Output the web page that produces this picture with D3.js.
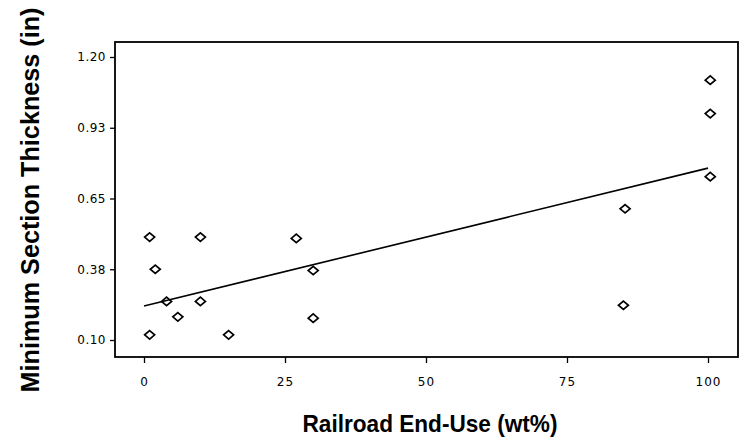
<!DOCTYPE html>
<html>
<head>
<meta charset="utf-8">
<script src="https://cdn.jsdelivr.net/npm/d3@7"></script>
<style>
  html, body { margin: 0; padding: 0; background: #fff; }
  svg { display: block; }
</style>
</head>
<body>
<svg id="chart" width="748" height="446"></svg>
<script>
// ---- data ----
const endUse = [1, 2, 4, 6, 1, 10, 10, 15, 27, 30, 30, 85.3, 85, 100.4, 100.4, 100.4];
const thickness = [0.50, 0.375, 0.25, 0.19, 0.12, 0.50, 0.25, 0.12, 0.495, 0.37, 0.185, 0.61, 0.235, 1.11, 0.98, 0.735];
const fitX = [0, 100];
const fitY = [0.232, 0.768];
const xTicks = [0, 25, 50, 75, 100];
const yTicks = [0.10, 0.375, 0.65, 0.925, 1.20];
const yTickLabels = ["0.10", "0.38", "0.65", "0.93", "1.20"];
const xTitle = "Railroad End-Use (wt%)";
const yTitle = "Minimum Section Thickness (in)";

const svg = d3.select("#chart");
const box = { left: 115, right: 738, top: 42, bottom: 357 };

const x = d3.scaleLinear().domain([0, 100]).range([144, 708]);
const y = d3.scaleLinear().domain([0.10, 1.20]).range([340, 57]);

// frame
svg.append("rect")
  .attr("x", box.left).attr("y", box.top)
  .attr("width", box.right - box.left).attr("height", box.bottom - box.top)
  .attr("fill", "none").attr("stroke", "#000").attr("stroke-width", 1.8);

// x axis
const xAxis = d3.axisBottom(x).tickValues(xTicks).tickSize(6).tickPadding(14)
  .tickFormat(d3.format("d"));
const gx = svg.append("g").attr("transform", `translate(0,${box.bottom})`).call(xAxis);
gx.select(".domain").remove();
gx.selectAll(".tick line").attr("stroke", "#000").attr("stroke-width", 1.3);
gx.selectAll(".tick text")
  .attr("fill", "#000")
  .style("font-family", "'DejaVu Sans', sans-serif")
  .style("font-size", "12px")
  .style("letter-spacing", "1px");

// y axis
const yAxis = d3.axisLeft(y).tickValues(yTicks).tickSize(5).tickPadding(4)
  .tickFormat((d, i) => yTickLabels[i]);
const gy = svg.append("g").attr("transform", `translate(${box.left},0)`).call(yAxis);
gy.select(".domain").remove();
gy.selectAll(".tick line").attr("stroke", "#000").attr("stroke-width", 1.3);
gy.selectAll(".tick text")
  .attr("fill", "#000")
  .style("font-family", "'DejaVu Sans', sans-serif")
  .style("font-size", "12px")
  .style("letter-spacing", "0.5px");

// fit line
const fit = fitX.map((v, i) => [v, fitY[i]]);
svg.append("path")
  .datum(fit)
  .attr("d", d3.line().x(d => x(d[0])).y(d => y(d[1])))
  .attr("fill", "none").attr("stroke", "#000").attr("stroke-width", 1.6);

// diamonds
const pts = endUse.map((v, i) => ({ x: v, y: thickness[i] }));
const dp = d3.path();
dp.moveTo(0, -4.2); dp.lineTo(5, 0); dp.lineTo(0, 4.2); dp.lineTo(-5, 0); dp.closePath();
svg.append("g").selectAll("path")
  .data(pts).join("path")
  .attr("transform", d => `translate(${x(d.x)},${y(d.y)})`)
  .attr("d", dp.toString())
  .attr("fill", "none").attr("stroke", "#000").attr("stroke-width", 1.7);

// titles
svg.append("text")
  .attr("x", 430).attr("y", 432)
  .attr("text-anchor", "middle")
  .attr("textLength", 255).attr("lengthAdjust", "spacingAndGlyphs")
  .style("font-family", "'Liberation Sans', Arial, sans-serif")
  .style("font-weight", "bold")
  .style("font-size", "24px")
  .text(xTitle);

svg.append("text")
  .attr("transform", "translate(39,200) rotate(-90)")
  .attr("text-anchor", "middle")
  .attr("textLength", 385).attr("lengthAdjust", "spacingAndGlyphs")
  .style("font-family", "'Liberation Sans', Arial, sans-serif")
  .style("font-weight", "bold")
  .style("font-size", "25px")
  .text(yTitle);
</script>
</body>
</html>
